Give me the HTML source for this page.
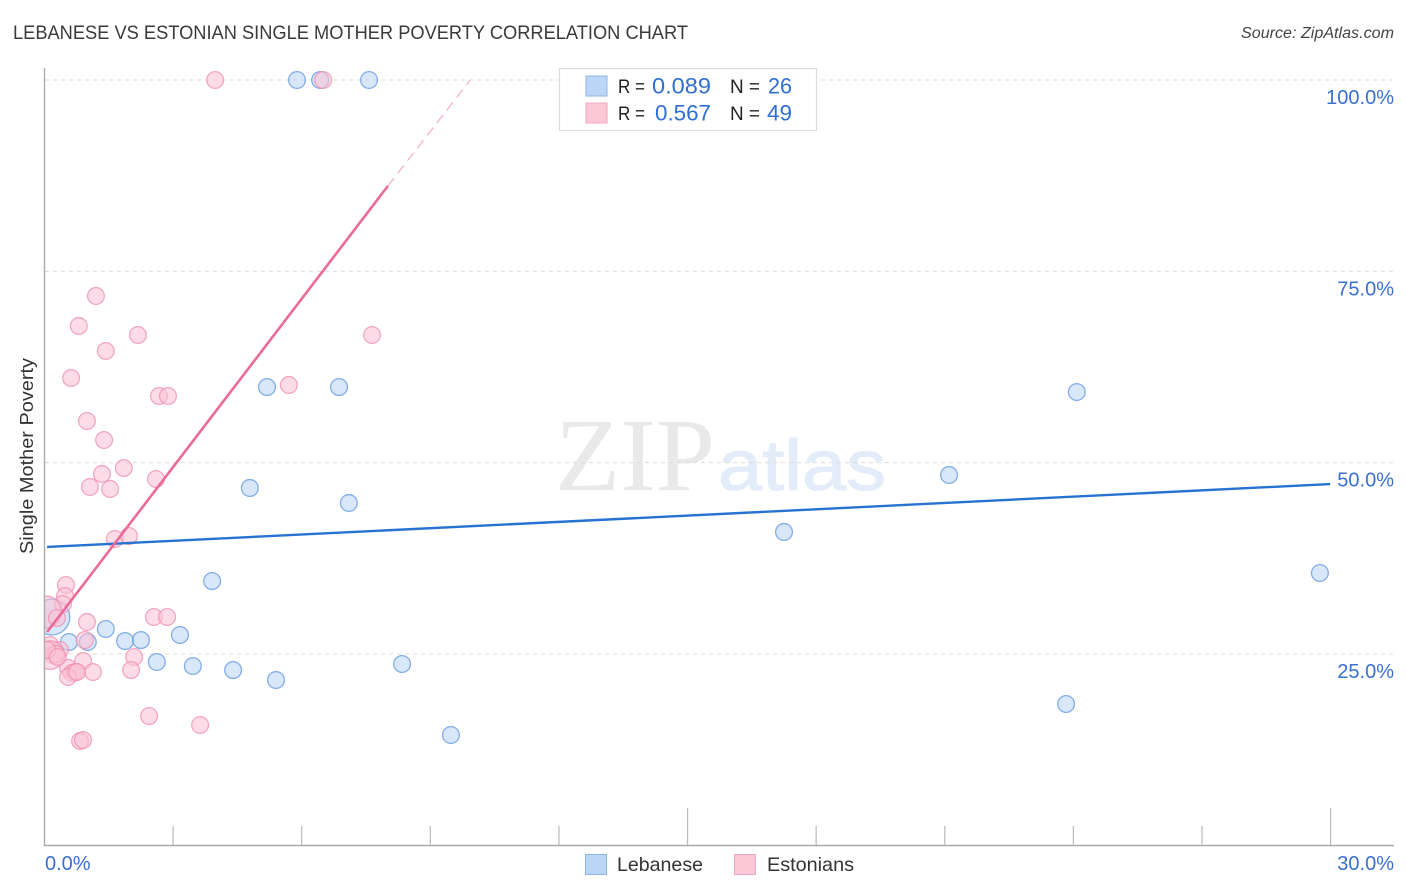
<!DOCTYPE html>
<html lang="en">
<head>
<meta charset="utf-8">
<title>Lebanese vs Estonian Single Mother Poverty Correlation Chart</title>
<style>
html,body{margin:0;padding:0;background:#fff;}
svg{display:block;font-family:"Liberation Sans",sans-serif;}
</style>
</head>
<body>
<svg id="chart" width="1406" height="892" viewBox="0 0 1406 892">
  <defs><clipPath id="plot-clip"><rect x="45" y="60" width="1349" height="786"/></clipPath></defs>
  <rect width="1406" height="892" fill="#fff"/>
  <text x="13" y="39" font-size="19" fill="#3a3a3a" textLength="675" lengthAdjust="spacingAndGlyphs">LEBANESE VS ESTONIAN SINGLE MOTHER POVERTY CORRELATION CHART</text>
  <text x="1394" y="38" font-size="15.500" font-style="italic" fill="#444" text-anchor="end" textLength="153" lengthAdjust="spacingAndGlyphs">Source: ZipAtlas.com</text>

  <g>
    <text x="555" y="490" font-family="'Liberation Serif',serif" font-size="104" fill="#e9e9e9" textLength="160" lengthAdjust="spacingAndGlyphs">ZIP</text>
    <text x="718" y="490" font-size="71" fill="#e3ecf9" stroke="#e3ecf9" stroke-width="1" textLength="168" lengthAdjust="spacingAndGlyphs">atlas</text>
  </g>

  <g id="grid"></g>
  <g id="marks" clip-path="url(#plot-clip)"></g>
  <g id="axes"></g>

  <text transform="translate(33,456) rotate(-90)" font-size="18.5" fill="#333" text-anchor="middle" textLength="196" lengthAdjust="spacingAndGlyphs">Single Mother Poverty</text>

  <g>
    <rect x="559.5" y="68.5" width="257" height="62" fill="#fff" stroke="#ddd" stroke-width="1.2"/>
    <rect x="586" y="76" width="21" height="20" fill="#bcd6f7" stroke="#8fb6ea" stroke-width="1"/>
    <rect x="586" y="103" width="21" height="20" fill="#fcc8d8" stroke="#f0a8bf" stroke-width="1"/>
    <text x="618" y="93" font-size="19" fill="#222" textLength="27" lengthAdjust="spacingAndGlyphs">R =</text>
    <text x="652" y="93.500" font-size="22" fill="#2f6fd0" textLength="59" lengthAdjust="spacingAndGlyphs">0.089</text>
    <text x="730" y="93" font-size="19" fill="#222" textLength="30" lengthAdjust="spacingAndGlyphs">N =</text>
    <text x="768" y="93.500" font-size="22" fill="#2f6fd0" textLength="24" lengthAdjust="spacingAndGlyphs">26</text>
    <text x="618" y="120" font-size="19" fill="#222" textLength="27" lengthAdjust="spacingAndGlyphs">R =</text>
    <text x="655" y="120.500" font-size="22" fill="#2f6fd0" textLength="56" lengthAdjust="spacingAndGlyphs">0.567</text>
    <text x="730" y="120" font-size="19" fill="#222" textLength="30" lengthAdjust="spacingAndGlyphs">N =</text>
    <text x="767" y="120.500" font-size="22" fill="#2f6fd0" textLength="25" lengthAdjust="spacingAndGlyphs">49</text>
  </g>

  <g>
    <rect x="585.500" y="854.500" width="21" height="20" fill="#bcd6f7" stroke="#8fb6ea" stroke-width="1"/>
    <text x="617" y="871" font-size="19.500" fill="#333" textLength="86" lengthAdjust="spacingAndGlyphs">Lebanese</text>
    <rect x="734.500" y="854.500" width="21" height="20" fill="#fcc8d8" stroke="#f0a8bf" stroke-width="1"/>
    <text x="767" y="871" font-size="19.500" fill="#333" textLength="87" lengthAdjust="spacingAndGlyphs">Estonians</text>
  </g>
</svg>
<script>
// Data values (percent)
const lebaneseX = [5.89,6.43,7.57,5.19,6.87,24.08,21.10,4.79,7.10,17.25,3.91,29.75,0.17,1.43,0.57,1.01,1.88,2.25,3.16,2.62,3.46,4.40,5.40,8.34,23.83,9.48];
const lebaneseY = [100,100,100,59.88,59.88,59.23,48.39,46.69,44.73,40.94,34.53,35.58,29.83,28.26,26.56,26.56,26.69,26.82,27.48,23.95,23.43,22.90,21.60,23.69,18.46,14.41];
const lebaneseWeight = [1,1,1,1,1,1,1,1,1,1,1,1,2.14,1,1,1,1,1,1,1,1,1,1,1,1,1];
const estonianX = [3.98,6.50,1.20,0.80,2.18,7.64,1.43,0.62,5.70,2.67,2.88,0.99,1.39,1.34,1.85,2.60,1.06,1.53,1.64,1.97,0.50,0.48,0.43,0.03,0.29,2.55,2.86,0.99,0.94,0.90,2.09,2.02,1.13,2.44,3.63,0.83,0.90,0.55,0.64,0.71,0.55,0.76,0.13,0.20,0.36,0.13,0.27,0.06,0.31];
const estonianY = [100,100,71.78,67.86,66.68,66.68,64.59,61.06,60.15,58.71,58.71,55.44,52.96,48.52,49.30,47.86,46.82,46.56,40.02,40.41,34.01,32.57,31.53,30.48,29.70,29.83,29.83,29.18,26.82,24.08,24.60,22.90,22.64,16.89,15.72,13.63,13.76,23.17,22.51,22.64,21.99,22.64,26.17,24.86,25.52,24.86,25.00,25.52,24.60];
const estonianWeight = [1,1,1,1,1,1,1,1,1,1,1,1,1,1,1,1,1,1,1,1,1,1,1,1.9,1,1,1,1,1,1,1,1,1,1,1,1,1,1,1,1,1,1,1,1,1,1.7,1,1,1];
const lebaneseTrendX = [0.06,29.99];
const lebaneseTrendY = [38.98,47.20];
const estonianTrendX = [0.06,8.01];
const estonianTrendY = [27.87,86.15];
const estonianTrendExtX = [8.01,9.93];
const estonianTrendExtY = [86.15,100];
const yTicks = [25,50,75,100];
const yTickLabels = ["25.0%","50.0%","75.0%","100.0%"];
const xTicks = [0,3,6,9,12,15,18,21,24,27,30];
const xMajorTicks = [15,30];
const xEndTicks = [0,30];
const xEndLabels = ["0.0%","30.0%"];

const NS = "http://www.w3.org/2000/svg";
function xScale(v){ return 44.5 + v * 42.87; }
function yScale(v){ return 845.3 - v * 7.653; }
function make(parent, tag, attrs, text){
  const el = document.createElementNS(NS, tag);
  for (const k in attrs) el.setAttribute(k, attrs[k]);
  if (text !== undefined) el.textContent = text;
  parent.appendChild(el);
  return el;
}
const grid = document.getElementById("grid");
const marks = document.getElementById("marks");
const axes = document.getElementById("axes");

yTicks.forEach(function(t){
  const line = make(grid, "line", {x1:45, x2:1394, y1:yScale(t), y2:yScale(t), stroke:"#dcdcdc", "stroke-width":1, "stroke-dasharray":"4 4"});
  
  
});

function drawPoints(xs, ys, weights, fill, stroke, name){
  xs.forEach(function(x, i){
    const c = make(marks, "circle", {cx:xScale(x), cy:yScale(ys[i]), r:8.4*weights[i], fill:fill, "fill-opacity":0.58, stroke:stroke, "stroke-opacity":0.75, "stroke-width":1.3});
    
    
  });
}
drawPoints(lebaneseX, lebaneseY, lebaneseWeight, "#bcd6f7", "#5f96e0", "lebanese-point");
drawPoints(estonianX, estonianY, estonianWeight, "#fbc3d5", "#ee8fae", "estonian-point");

const blueLine = make(marks, "line", {x1:xScale(lebaneseTrendX[0]), y1:yScale(lebaneseTrendY[0]), x2:xScale(lebaneseTrendX[1]), y2:yScale(lebaneseTrendY[1]), stroke:"#2673d2", "stroke-width":2.4});


const pinkLine = make(marks, "line", {x1:xScale(estonianTrendX[0]), y1:yScale(estonianTrendY[0]), x2:xScale(estonianTrendX[1]), y2:yScale(estonianTrendY[1]), stroke:"#ea6a98", "stroke-width":2.6});


const pinkExt = make(marks, "line", {x1:xScale(estonianTrendExtX[0]), y1:yScale(estonianTrendExtY[0]), x2:xScale(estonianTrendExtX[1]), y2:yScale(estonianTrendExtY[1]), stroke:"#f0a0bc", "stroke-width":1, "stroke-dasharray":"10 6"});



const yAxisLine = make(axes, "line", {x1:44.5, x2:44.5, y1:68, y2:846, stroke:"#aaa", "stroke-width":1.4});


const xAxisLine = make(axes, "line", {x1:44, x2:1394, y1:845.5, y2:845.5, stroke:"#aaa", "stroke-width":1.4});



xTicks.forEach(function(t){
  if (t === 0) return;
  const major = xMajorTicks.indexOf(t) >= 0;
  const tick = make(axes, "line", {x1:xScale(t), x2:xScale(t), y1:major ? 808 : 826, y2:845, stroke:"#bbb", "stroke-width":1.2});
  
  
});

yTicks.forEach(function(t, i){
  const label = make(axes, "text", {x:1394, y:yScale(t)+24, "font-size":20, fill:"#3a70d2", "text-anchor":"end"}, yTickLabels[i]);
  
  
});
xEndTicks.forEach(function(t, i){
  const label = make(axes, "text", {x:i === 0 ? 45 : 1394, y:870, "font-size":20, fill:"#3a70d2", "text-anchor":i === 0 ? "start" : "end"}, xEndLabels[i]);
  
  
});
</script>
</body>
</html>
